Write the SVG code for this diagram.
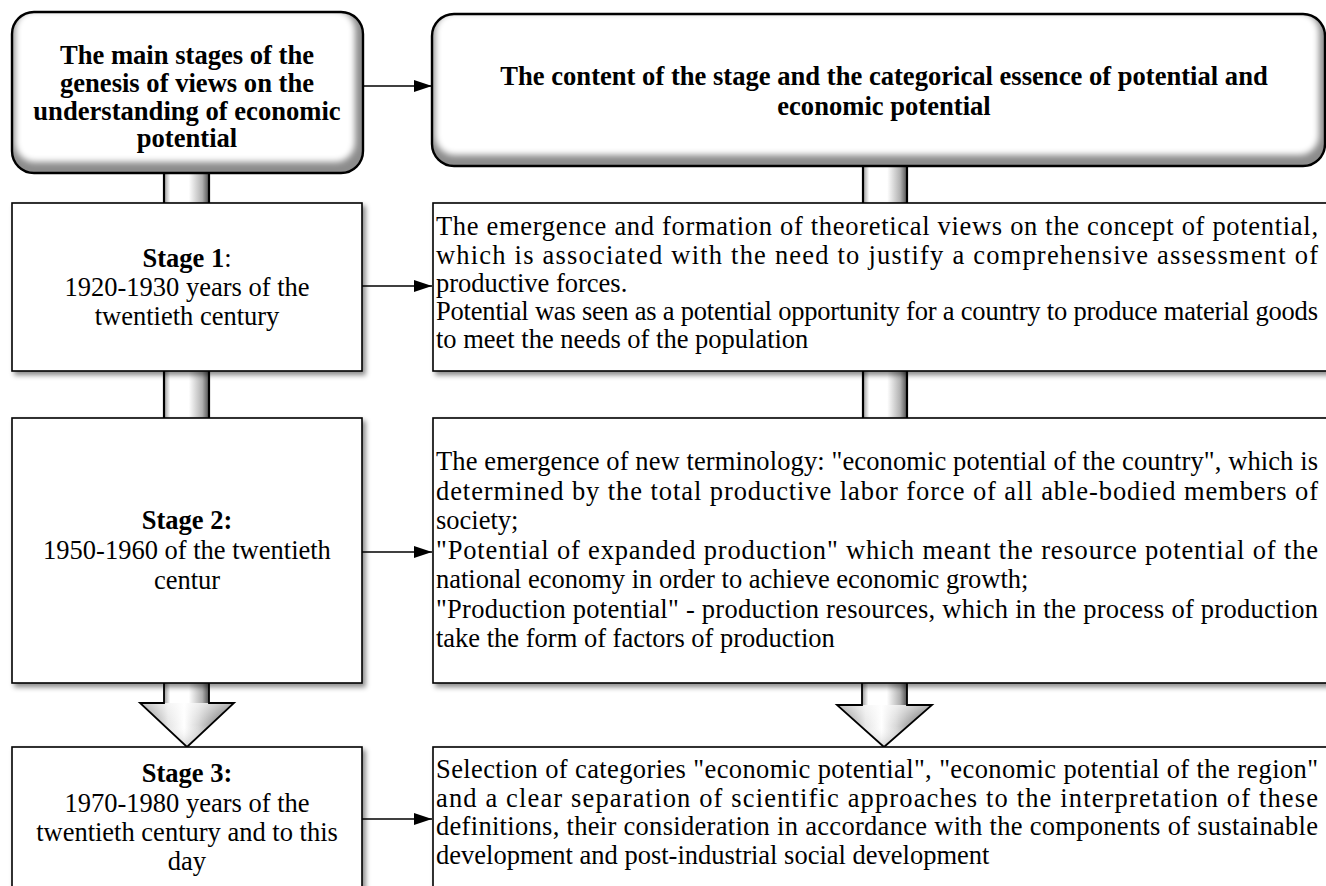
<svg xmlns="http://www.w3.org/2000/svg" width="1326" height="886" viewBox="0 0 1326 886">
<defs>
<style>
text{font-family:'Liberation Serif','Times New Roman',serif;font-size:26.5px;fill:#000}
.h{font-weight:bold;font-size:26.6px}
.b{font-weight:bold}
.c{text-anchor:middle}
.box{fill:#fff;stroke:#000;stroke-width:1.6}
.rb{fill:none;stroke:#000;stroke-width:2.4}
.edge{stroke:#000;stroke-width:2.2}
.conn{fill:none;stroke:#000;stroke-width:1.6}
</style>
<filter id="sh" x="-5%" y="-10%" width="115%" height="125%">
<feDropShadow dx="3" dy="3.5" stdDeviation="2.5" flood-color="#000" flood-opacity="0.45"/>
</filter>
<filter id="bl" x="-10%" y="-20%" width="120%" height="140%"><feGaussianBlur stdDeviation="3"/></filter>
<linearGradient id="col" x1="0" y1="0" x2="1" y2="0">
<stop offset="0" stop-color="#9a9a9a"/><stop offset="0.14" stop-color="#fff"/><stop offset="0.55" stop-color="#fff"/><stop offset="0.85" stop-color="#b0b0b0"/><stop offset="1" stop-color="#505050"/>
</linearGradient>
<linearGradient id="head" x1="0" y1="0" x2="1" y2="0">
<stop offset="0" stop-color="#6a6a6a"/><stop offset="0.3" stop-color="#e6e6e6"/><stop offset="0.47" stop-color="#fff"/><stop offset="0.62" stop-color="#d8d8d8"/><stop offset="1" stop-color="#4a4a4a"/>
</linearGradient>
<linearGradient id="headv" x1="0" y1="0" x2="0" y2="1">
<stop offset="0" stop-color="#fff" stop-opacity="0.6"/><stop offset="0.5" stop-color="#fff" stop-opacity="0"/><stop offset="1" stop-color="#888" stop-opacity="0.35"/>
</linearGradient>
<clipPath id="cp1"><rect x="12" y="12" width="351" height="161" rx="22"/></clipPath>
<clipPath id="cp2"><rect x="432" y="14" width="893" height="152" rx="22"/></clipPath>
<marker id="ah" markerUnits="userSpaceOnUse" markerWidth="18" markerHeight="12" refX="18" refY="6" orient="auto">
<path d="M0,0 L18,6 L0,12 Z" fill="#000"/>
</marker>
</defs>

<g id="connectors">
<rect x="164" y="170" width="45" height="34" fill="url(#col)"/>
<line class="edge" x1="164" y1="170" x2="164" y2="203"/><line class="edge" x1="209" y1="170" x2="209" y2="203"/>
<rect x="863" y="164" width="44" height="40" fill="url(#col)"/>
<line class="edge" x1="863" y1="164" x2="863" y2="203"/><line class="edge" x1="907" y1="164" x2="907" y2="203"/>
<rect x="164" y="370" width="45" height="49" fill="url(#col)"/>
<line class="edge" x1="164" y1="370" x2="164" y2="418"/><line class="edge" x1="209" y1="370" x2="209" y2="418"/>
<rect x="863" y="370" width="44" height="49" fill="url(#col)"/>
<line class="edge" x1="863" y1="370" x2="863" y2="418"/><line class="edge" x1="907" y1="370" x2="907" y2="418"/>
<rect x="164" y="682" width="45" height="22" fill="url(#col)"/>
<path d="M140,703 L234,703 L187,747 Z" fill="url(#head)"/>
<path d="M140,703 L234,703 L187,747 Z" fill="url(#headv)"/>
<path d="M164,683 V703 H140 L187,747 L234,703 H209 V683" fill="none" stroke="#000" stroke-width="1.8"/>
<rect x="862" y="682" width="45" height="24" fill="url(#col)"/>
<path d="M837,705 L932,705 L884,747 Z" fill="url(#head)"/>
<path d="M837,705 L932,705 L884,747 Z" fill="url(#headv)"/>
<path d="M862,683 V705 H837 L884,747 L932,705 H907 V683" fill="none" stroke="#000" stroke-width="1.8"/>
<line class="conn" x1="363" y1="86" x2="432" y2="86" marker-end="url(#ah)"/>
<line class="conn" x1="362" y1="286" x2="432" y2="286" marker-end="url(#ah)"/>
<line class="conn" x1="362" y1="552" x2="432" y2="552" marker-end="url(#ah)"/>
<line class="conn" x1="362" y1="819" x2="432" y2="819" marker-end="url(#ah)"/>
</g>

<g id="head-left">
<g clip-path="url(#cp1)">
<rect x="12" y="12" width="351" height="161" fill="#8c8c8c"/>
<rect x="15" y="10" width="340" height="152" rx="20" fill="#fff" filter="url(#bl)"/>
</g>
<rect class="rb" x="12" y="12" width="351" height="161" rx="22"/>
<text class="h c" x="187" y="64">The main stages of the</text>
<text class="h c" x="187" y="92">genesis of views on the</text>
<text class="h c" x="187" y="119.5">understanding of economic</text>
<text class="h c" x="187" y="147">potential</text>
</g>

<g id="head-right">
<g clip-path="url(#cp2)">
<rect x="432" y="14" width="893" height="152" fill="#8c8c8c"/>
<rect x="435" y="12" width="884" height="143" rx="20" fill="#fff" filter="url(#bl)"/>
</g>
<rect class="rb" x="432" y="14" width="893" height="152" rx="22"/>
<text class="h c" x="884" y="85">The content of the stage and the categorical essence of potential and</text>
<text class="h c" x="884" y="115">economic potential</text>
</g>

<g id="stage1">
<rect class="box" x="12" y="203" width="350" height="168" filter="url(#sh)"/>
<text class="c" x="187" y="267"><tspan class="b">Stage 1</tspan>:</text>
<text class="c" x="187" y="296">1920-1930 years of the</text>
<text class="c" x="187" y="325">twentieth century</text>
</g>

<g id="content1">
<rect class="box" x="433" y="203" width="905" height="168" filter="url(#sh)"/>
<text x="436" y="235" textLength="882" lengthAdjust="spacing">The emergence and formation of theoretical views on the concept of potential,</text>
<text x="436" y="263.5" textLength="882" lengthAdjust="spacing">which is associated with the need to justify a comprehensive assessment of</text>
<text x="436" y="292">productive forces.</text>
<text x="436" y="320" textLength="882" lengthAdjust="spacing">Potential was seen as a potential opportunity for a country to produce material goods</text>
<text x="436" y="348">to meet the needs of the population</text>
</g>

<g id="stage2">
<rect class="box" x="12" y="418" width="350" height="265" filter="url(#sh)"/>
<text class="b c" x="187" y="529">Stage 2:</text>
<text class="c" x="187" y="559">1950-1960 of the twentieth</text>
<text class="c" x="187" y="589">centur</text>
</g>

<g id="content2">
<rect class="box" x="433" y="418" width="905" height="265" filter="url(#sh)"/>
<text x="436" y="470" textLength="882" lengthAdjust="spacing">The emergence of new terminology: "economic potential of the country", which is</text>
<text x="436" y="499.5" textLength="882" lengthAdjust="spacing">determined by the total productive labor force of all able-bodied members of</text>
<text x="436" y="529">society;</text>
<text x="436" y="558.5" textLength="882" lengthAdjust="spacing">"Potential of expanded production" which meant the resource potential of the</text>
<text x="436" y="588">national economy in order to achieve economic growth;</text>
<text x="436" y="617.5" textLength="882" lengthAdjust="spacing">"Production potential" - production resources, which in the process of production</text>
<text x="436" y="647">take the form of factors of production</text>
</g>

<g id="stage3">
<rect class="box" x="12" y="747" width="350" height="160" filter="url(#sh)"/>
<text class="b c" x="187" y="782">Stage 3:</text>
<text class="c" x="187" y="812">1970-1980 years of the</text>
<text class="c" x="187" y="841">twentieth century and to this</text>
<text class="c" x="187" y="870">day</text>
</g>

<g id="content3">
<rect class="box" x="433" y="747" width="905" height="160" filter="url(#sh)"/>
<text x="436" y="778" textLength="882" lengthAdjust="spacing">Selection of categories "economic potential", "economic potential of the region"</text>
<text x="436" y="806.5" textLength="882" lengthAdjust="spacing">and a clear separation of scientific approaches to the interpretation of these</text>
<text x="436" y="835" textLength="882" lengthAdjust="spacing">definitions, their consideration in accordance with the components of sustainable</text>
<text x="436" y="863.5">development and post-industrial social development</text>
</g>
</svg>
